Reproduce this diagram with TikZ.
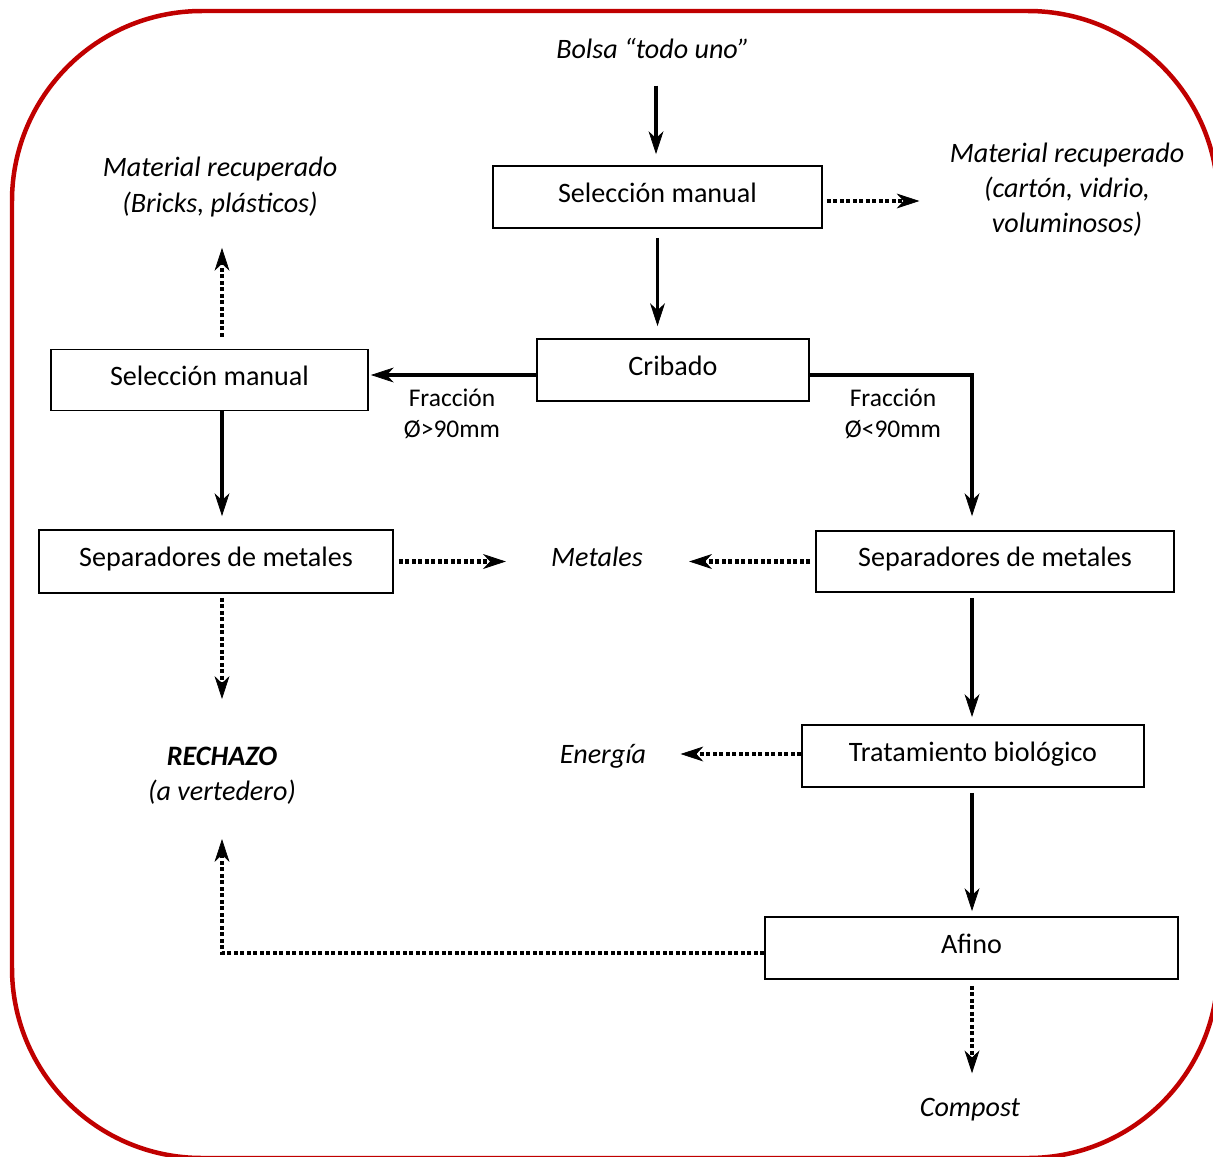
\documentclass[tikz,border=0pt]{standalone}
\usepackage{fontspec}
\setmainfont{Carlito}
\usetikzlibrary{arrows.meta}
\definecolor{framered}{RGB}{192,0,0}

\begin{document}
\begin{tikzpicture}[x=0.02cm, y=-0.02cm,
  box/.style={draw, line width=1.1pt, inner sep=0pt, text height=0.9em, text depth=0.31em, font=\fontsize{16}{20}\selectfont},
  lbl/.style={inner sep=0pt, align=center, font=\fontsize{16}{20}\selectfont\itshape},
  frac/.style={inner sep=0pt, align=center, font=\fontsize{14.5}{18}\selectfont},
  flow/.style={line width=2pt, -{Stealth[length=13pt, width=8.5pt, inset=4pt, line width=0.4pt]}},
  side/.style={line width=2.3pt, dash pattern=on 0.08cm off 0.05cm, -{Stealth[length=13pt, width=8.5pt, inset=4pt, line width=0.4pt]}}]
\useasboundingbox (0,0) rectangle (1213,1156);

% Red frame round the whole diagram
\draw[framered, line width=0.09cm, rounded corners=3.8cm] (12,11) rectangle (1218,1158);

% Columns of the vertical connectors
\coordinate (colL) at (222,0);
\coordinate (colR) at (972,0);

% Boxes
\node[box, minimum width=6.58cm, minimum height=1.24cm] (sel1) at (657.5,197) {Selección manual};
\node[box, minimum width=5.44cm, minimum height=1.24cm] (crib) at (673,370) {Cribado};
\node[box, minimum width=6.34cm, minimum height=1.22cm] (sel2) at (209.5,380) {Selección manual};
\node[box, minimum width=7.08cm, minimum height=1.26cm] (sep1) at (216,561.5) {Separadores de metales};
\node[box, minimum width=7.16cm, minimum height=1.22cm] (sep2) at (995,561.5) {Separadores de metales};
\node[box, minimum width=6.84cm, minimum height=1.24cm] (tb) at (973,756) {Tratamiento biológico};
\node[box, minimum width=8.26cm, minimum height=1.24cm] (afino) at (971.5,948) {Afino};

% Inputs and outputs
\node[lbl] (bolsa) at (653,48) {Bolsa “todo uno”};
\node[lbl] (mat1) at (1067,189.5) {Material recuperado\\(cartón, vidrio,\\voluminosos)};
\node[lbl] (mat2) at (220,187) {Material recuperado\\(Bricks, plásticos)};
\node[lbl] (metales) at (597,557) {Metales};
\node[lbl] (energia) at (603,756) {Energía};
\node[lbl] (rechazo) at (222,776) {\textbf{RECHAZO}\\(a vertedero)};
\node[lbl] (compost) at (970,1110) {Compost};
\node[frac] (frac1) at (452,414) {Fracción\\Ø>90mm};
\node[frac] (frac2) at (893,414) {Fracción\\Ø<90mm};

% Main flow
\draw[flow, shorten <=0.54cm, shorten >=0.22cm] (bolsa.south -| 656,0) -- (656,0 |- sel1.north);
\draw[flow, shorten <=0.18cm, shorten >=0.24cm] (sel1.south) -- (sel1.south |- crib.north);
\draw[flow, shorten >=0.04cm] ([yshift=-0.1cm]crib.west) -- ([yshift=-0.1cm]crib.west -| sel2.east);
\draw[flow, shorten >=0.28cm] ([yshift=-0.1cm]crib.east) -| (colR |- sep2.north);
\draw[flow, shorten >=0.26cm] (colL |- sel2.south) -- (colL |- sep1.north);
\draw[flow, shorten <=0.1cm, shorten >=0.14cm] (colR |- sep2.south) -- (colR |- tb.north);
\draw[flow, shorten <=0.1cm, shorten >=0.1cm] (colR |- tb.south) -- (colR |- afino.north);

% Side outputs
\draw[side, shorten <=0.08cm, shorten >=0.6cm] ([yshift=-0.08cm]sel1.east) -- ([yshift=-0.08cm]sel1.east -| mat1.west);
\draw[side, shorten <=0.24cm, shorten >=0.62cm] (colL |- sel2.north) -- (colL |- mat2.south);
\draw[side, shorten <=0.1cm, shorten >=0.9cm] (sep1.east) -- (sep1.east -| metales.west);
\draw[side, shorten <=0.1cm, shorten >=0.92cm] (sep2.west) -- (sep2.west -| metales.east);
\draw[side, shorten <=0.08cm, shorten >=0.96cm] (colL |- sep1.south) -- (colL |- rechazo.north);
\draw[side, shorten >=0.68cm] ([yshift=0.04cm]tb.west) -- ([yshift=0.04cm]tb.west -| energia.east);
\draw[side, shorten >=0.68cm] ([yshift=-0.1cm]afino.west) -| (colL |- rechazo.south);
\draw[side, shorten <=0.12cm, shorten >=0.5cm] (colR |- afino.south) -- (colR |- compost.north);
\end{tikzpicture}
\end{document}
